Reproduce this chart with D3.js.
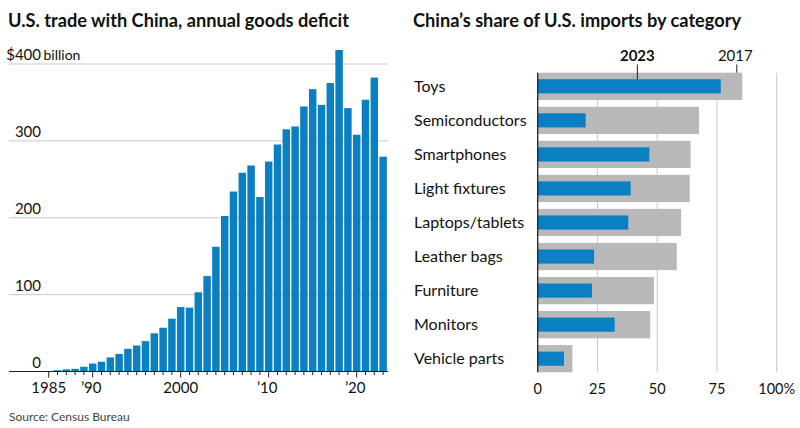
<!DOCTYPE html>
<html>
<head>
<meta charset="utf-8">
<script src="https://cdn.jsdelivr.net/npm/d3@7"></script>
<style>
  html, body { margin: 0; padding: 0; background: #fff; }
  svg { display: block; }
  text { font-family: Lato, "Open Sans", sans-serif; fill: #111; }
</style>
</head>
<body>
<svg id="chart" width="800" height="428"></svg>
<script>
// ---------- Data ----------
const years = d3.range(1985, 2024);
const deficit = [0.006, 1.7, 2.8, 3.5, 6.2, 10.4, 12.7, 18.3, 22.8, 29.5, 33.8, 39.5, 49.7, 56.9, 68.7,
  83.8, 83.1, 103.1, 124.1, 162.3, 202.3, 234.1, 258.5, 268.0, 226.9, 273.1, 295.3, 315.1, 318.7,
  344.8, 367.3, 346.8, 375.2, 418.2, 342.6, 308.0, 353.5, 382.3, 279.4];
const leftYTicks = [0, 100, 200, 300, 400];
const leftXLabels = [[1985, "1985"], [1990, "\u201990"], [2000, "2000"], [2010, "\u201910"], [2020, "\u201920"]];

const categories = ["Toys", "Semiconductors", "Smartphones", "Light fixtures", "Laptops/tablets",
  "Leather bags", "Furniture", "Monitors", "Vehicle parts"];
const share2017 = [85.6, 67.5, 64.0, 63.6, 60.0, 58.2, 48.7, 47.1, 14.5];
const share2023 = [76.6, 20.1, 46.7, 38.9, 37.9, 23.6, 22.7, 32.2, 11.0];
const rightXTicks = [0, 25, 50, 75, 100];

const BLUE = "#0a80c3", GRAY = "#bab9b9", GRID = "#c8c8c8";

const svg = d3.select("#chart");

// ---------- Left chart ----------
const L = svg.append("g");
L.append("text").attr("x", 8).attr("y", 27).attr("font-size", 18.2).attr("font-weight", 700)
  .text("U.S. trade with China, annual goods deficit");

const xL = d3.scaleBand().domain(years).range([44.3, 387.5]).paddingInner(0.15).paddingOuter(0.075);
const yL = d3.scaleLinear().domain([0, 400]).range([371.5, 64]);

L.append("g").selectAll("line").data(leftYTicks.filter(d => d > 0)).join("line")
  .attr("x1", 9).attr("x2", 388).attr("y1", d => yL(d)).attr("y2", d => yL(d))
  .attr("stroke", GRID).attr("stroke-width", 1);

L.append("g").selectAll("rect").data(years).join("rect")
  .attr("x", d => xL(d)).attr("width", xL.bandwidth())
  .attr("y", (d, i) => yL(deficit[i])).attr("height", (d, i) => yL(0) - yL(deficit[i]))
  .attr("fill", BLUE);

L.append("g").selectAll("text").data(leftYTicks).join("text")
  .attr("x", 41).attr("y", d => yL(d) - 4).attr("text-anchor", "end").attr("font-size", 15)
  .text(d => d === 400 ? "$400" : d);
L.append("text").attr("x", 43.5).attr("y", yL(400) - 4).attr("font-size", 14).text("billion");

L.append("line").attr("x1", 9).attr("x2", 388).attr("y1", yL(0)).attr("y2", yL(0))
  .attr("stroke", "#222").attr("stroke-width", 1.2);

const majorYears = leftXLabels.map(d => d[0]);
L.append("g").selectAll("line").data(years).join("line")
  .attr("x1", d => xL(d) + xL.bandwidth() / 2).attr("x2", d => xL(d) + xL.bandwidth() / 2)
  .attr("y1", yL(0)).attr("y2", d => yL(0) + (majorYears.includes(d) ? 6 : 3.5))
  .attr("stroke", "#222").attr("stroke-width", 1);

L.append("g").selectAll("text").data(leftXLabels).join("text")
  .attr("x", d => xL(d[0]) + xL.bandwidth() / 2 - (d[1].startsWith("\u2019") ? 1.5 : 0))
  .attr("y", 393).attr("text-anchor", "middle").attr("font-size", 15)
  .text(d => d[1]);

L.append("text").attr("x", 9).attr("y", 421).attr("font-size", 12).style("fill", "#444")
  .text("Source: Census Bureau");

// ---------- Right chart ----------
const R = svg.append("g");
R.append("text").attr("x", 413).attr("y", 27).attr("font-size", 18.2).attr("font-weight", 700)
  .text("China\u2019s share of U.S. imports by category");

const xR = d3.scaleLinear().domain([0, 100]).range([537.7, 776.7]);
const yR = d3.scaleBand().domain(categories).range([69.3, 375.7]).paddingInner(0.2).paddingOuter(0.1);

const rTop = yR(categories[0]), rBottom = yR(categories[categories.length - 1]) + yR.bandwidth();

R.append("g").selectAll("line").data(rightXTicks.filter(d => d > 0)).join("line")
  .attr("x1", d => xR(d)).attr("x2", d => xR(d)).attr("y1", rTop).attr("y2", rBottom)
  .attr("stroke", GRID).attr("stroke-width", 1);

R.append("g").selectAll("rect").data(categories).join("rect")
  .attr("x", xR(0)).attr("y", d => yR(d)).attr("height", yR.bandwidth())
  .attr("width", (d, i) => xR(share2017[i]) - xR(0)).attr("fill", GRAY);

const innerH = yR.bandwidth() * 0.52;
R.append("g").selectAll("rect").data(categories).join("rect")
  .attr("x", xR(0)).attr("y", d => yR(d) + (yR.bandwidth() - innerH) / 2).attr("height", innerH)
  .attr("width", (d, i) => xR(share2023[i]) - xR(0)).attr("fill", BLUE);

R.append("line").attr("x1", xR(0)).attr("x2", xR(0)).attr("y1", rTop).attr("y2", rBottom)
  .attr("stroke", "#222").attr("stroke-width", 1.3);

R.append("g").selectAll("text").data(categories).join("text")
  .attr("x", 414).attr("y", d => yR(d) + yR.bandwidth() / 2).attr("dy", "0.35em")
  .attr("font-size", 16).text(d => d);

R.append("g").selectAll("text").data(rightXTicks).join("text")
  .attr("x", d => xR(d)).attr("y", 394).attr("text-anchor", "middle")
  .attr("font-size", 14.5).text(d => d === 100 ? "100%" : d);

const lg2023 = 41.7, lg2017 = share2017[0] - 2.3;
R.append("line").attr("x1", xR(lg2023)).attr("x2", xR(lg2023)).attr("y1", 64.5)
  .attr("y2", yR(categories[0]) + (yR.bandwidth() - innerH) / 2).attr("stroke", "#222");
R.append("line").attr("x1", xR(lg2017)).attr("x2", xR(lg2017)).attr("y1", 64.5)
  .attr("y2", rTop).attr("stroke", "#222");
R.append("text").attr("x", xR(lg2023)).attr("y", 60.5).attr("text-anchor", "middle")
  .attr("font-size", 15).attr("font-weight", 700).text("2023");
R.append("text").attr("x", xR(lg2017) - 1.5).attr("y", 60.5).attr("text-anchor", "middle")
  .attr("font-size", 15).text("2017");
</script>
</body>
</html>
